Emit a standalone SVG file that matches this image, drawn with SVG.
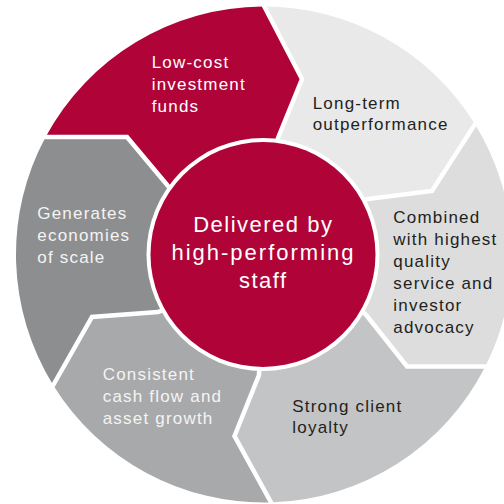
<svg xmlns="http://www.w3.org/2000/svg" width="504" height="504" viewBox="0 0 504 504">
<style>
.t{font-family:"Liberation Sans",Arial,sans-serif;font-size:17px;letter-spacing:1.2px}
.w{fill:#FFFFFF}
.lw{fill:#F4F4F4}
.d{fill:#231F20}
.c{font-family:"Liberation Sans",Arial,sans-serif;font-size:22px;letter-spacing:1.5px;fill:#FFFFFF;text-anchor:middle}
.gap{fill:none;stroke:#FFFFFF;stroke-width:4.5;stroke-linejoin:miter;stroke-linecap:square}
</style>
<rect width="504" height="504" fill="#FFFFFF"/>
<g id="seg-lowcost">
<path d="M45.6 137 A248 248 0 0 1 262.5 6.5 L302 79 L278 138 L264 254.5 L168 186 L127 137 Z" fill="#B00438"/>
<text class="t w"><tspan x="151.7" y="67.7">Low-cost</tspan><tspan x="151.7" y="90">investment</tspan><tspan x="151.7" y="112">funds</tspan></text>
</g>
<g id="seg-longterm">
<path d="M262.5 6.5 A248 248 0 0 1 475 124.3 L432 191 L368 199 L264 254.5 L278 138 L302 79 Z" fill="#E9E9E9"/>
<text class="t d"><tspan x="312.7" y="108.5">Long-term</tspan><tspan x="312.7" y="130.3">outperformance</tspan></text>
</g>
<g id="seg-combined">
<path d="M475 124.3 A248 248 0 0 1 485.3 366.5 L407 366.5 L367 316 L264 254.5 L368 199 L432 191 Z" fill="#DCDDDC"/>
<text class="t d"><tspan x="393.3" y="222.5">Combined</tspan><tspan x="393.3" y="244.5">with highest</tspan><tspan x="393.3" y="266.5">quality</tspan><tspan x="393.3" y="288.5">service and</tspan><tspan x="393.3" y="310.5">investor</tspan><tspan x="393.3" y="332.5">advocacy</tspan></text>
</g>
<g id="seg-loyalty">
<path d="M485.3 366.5 A248 248 0 0 1 271 502.4 L234.5 436 L259 375 L264 254.5 L367 316 L407 366.5 Z" fill="#C3C4C5"/>
<text class="t d"><tspan x="292.3" y="411.7">Strong client</tspan><tspan x="292.3" y="433">loyalty</tspan></text>
</g>
<g id="seg-cashflow">
<path d="M271 502.4 A248 248 0 0 1 53.2 385.2 L92 317 L158 312 L264 254.5 L259 375 L234.5 436 Z" fill="#A8A9AA"/>
<text class="t lw"><tspan x="102.7" y="380">Consistent</tspan><tspan x="102.7" y="402">cash flow and</tspan><tspan x="102.7" y="423.5">asset growth</tspan></text>
</g>
<g id="seg-scale">
<path d="M53.2 385.2 A248 248 0 0 1 45.6 137 L127 137 L168 186 L264 254.5 L158 312 L92 317 Z" fill="#8D8E90"/>
<text class="t lw"><tspan x="37.3" y="219">Generates</tspan><tspan x="37.3" y="240.8">economies</tspan><tspan x="37.3" y="262.5">of scale</tspan></text>
</g>
<g id="connectors">
<polyline class="gap" points="262.5,3 302,79 278,138 272,180"/>
<polyline class="gap" points="477,121 432,191 368,199 330,205"/>
<polyline class="gap" points="490,366.5 407,366.5 367,316 340,290"/>
<polyline class="gap" points="273,506 234.5,436 259,375 260,340"/>
<polyline class="gap" points="51,389 92,317 158,312 190,300"/>
<polyline class="gap" points="42,137 127,137 168,186 190,210"/>
</g>
<g id="center">
<circle cx="263" cy="254.5" r="116.5" fill="#FFFFFF"/>
<circle cx="263" cy="254.5" r="112.5" fill="#B00438"/>
<text class="c"><tspan x="263.3" y="231.7">Delivered by</tspan><tspan x="263.5" y="260" style="letter-spacing:2px">high-performing</tspan><tspan x="263.3" y="287.8">staff</tspan></text>
</g>
</svg>
